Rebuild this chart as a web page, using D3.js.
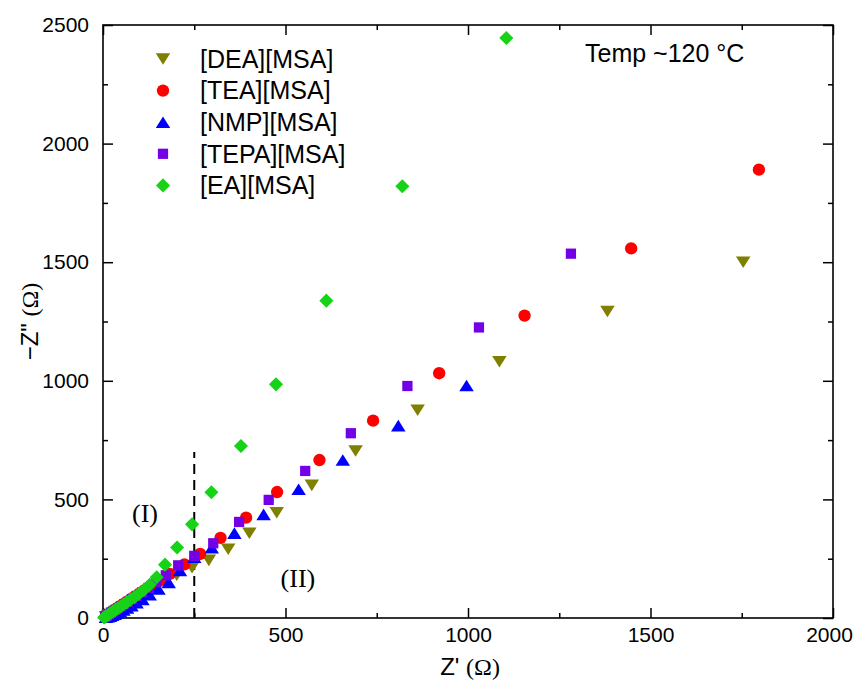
<!DOCTYPE html>
<html>
<head>
<meta charset="utf-8">
<script src="https://cdn.jsdelivr.net/npm/d3@7"></script>
<style>
	html, body { margin: 0; padding: 0; background: #fff; }
	svg { display: block; }
</style>
</head>
<body>
<div id="chart"></div>
<script>
// series names (legend order)
const seriesNames = ['[DEA][MSA]', '[TEA][MSA]', '[NMP][MSA]', '[TEPA][MSA]', '[EA][MSA]'];

// Z' / -Z'' values
const deaX = [1754, 1382, 1086, 862, 692, 572, 476, 401, 343, 290, 244, 202, 172, 148, 127, 109, 94, 81, 69, 59, 50, 42, 34, 27, 20, 14, 8];
const deaY = [1500, 1292, 1080, 876, 704, 559, 444, 357, 290, 243, 212, 180, 152, 130, 110, 93, 79, 67, 57, 48, 40, 33, 27, 21, 15, 10, 5];

const teaX = [1797, 1447, 1155, 921, 740, 593, 477, 392, 322, 266, 223, 183, 155, 132, 113, 97, 83, 71, 60, 50, 42, 34, 27, 20, 14, 8];
const teaY = [1890, 1558, 1275, 1032, 832, 666, 531, 423, 338, 270, 226, 186, 158, 136, 116, 100, 86, 73, 62, 52, 43, 35, 28, 21, 14, 8];

const nmpX = [996, 809, 657, 536, 440, 360, 298, 250, 211, 180, 152, 128, 108, 92, 78, 66, 56, 47, 39, 32, 25, 19, 13, 8];
const nmpY = [980, 811, 666, 543, 437, 358, 296, 256, 200, 150, 122, 98, 78, 64, 52, 42, 34, 27, 21, 16, 12, 8, 5, 3];

const tepaX = [1282, 1030, 834, 679, 554, 454, 373, 302, 250, 206, 172, 146, 125, 107, 92, 79, 68, 58, 49, 41, 34, 28, 22, 16, 11, 6];
const tepaY = [1536, 1225, 978, 779, 620, 498, 405, 315, 262, 222, 180, 150, 127, 108, 93, 80, 68, 58, 49, 41, 34, 27, 21, 15, 10, 5];

const eaX = [1105, 820, 612, 474, 378, 297, 244, 203, 170, 147, 128, 112, 98, 86, 75, 65, 56, 48, 41, 34, 28, 22, 17, 12, 7, 3];
const eaY = [2445, 1820, 1338, 985, 725, 530, 395, 297, 225, 172, 140, 118, 101, 88, 77, 66, 57, 48, 41, 34, 28, 22, 16, 11, 6, 2];

const xTicks = [0, 500, 1000, 1500, 2000];
const xMinor = [250, 750, 1250, 1750];
const yTicks = [0, 500, 1000, 1500, 2000, 2500];
const yMinor = [250, 750, 1250, 1750, 2250];

const width = 855;
const height = 682;
const margin = ({ top: 25, right: 22, bottom: 64, left: 103 });

const colors = ['#7f7f00', '#ff0000', '#0000ff', '#7300e6', '#17d317'];

// custom marker shapes
const triDown = {
	draw(ctx, size) {
		const w = Math.sqrt(size), h = w * 0.8;
		ctx.moveTo(-w / 2, -h / 2); ctx.lineTo(w / 2, -h / 2); ctx.lineTo(0, h / 2); ctx.closePath();
	}
};
const triUp = {
	draw(ctx, size) {
		const w = Math.sqrt(size), h = w * 0.8;
		ctx.moveTo(-w / 2, h / 2); ctx.lineTo(w / 2, h / 2); ctx.lineTo(0, -h / 2); ctx.closePath();
	}
};
const diamond = {
	draw(ctx, size) {
		const r = Math.sqrt(size) / 2;
		ctx.moveTo(0, -r); ctx.lineTo(r, 0); ctx.lineTo(0, r); ctx.lineTo(-r, 0); ctx.closePath();
	}
};
const shapes = [triDown, d3.symbolCircle, triUp, d3.symbolSquare, diamond];
const sizes = [210, 120, 210, 105, 200];

const series = [
	{ xs: deaX, ys: deaY },
	{ xs: teaX, ys: teaY },
	{ xs: nmpX, ys: nmpY },
	{ xs: tepaX, ys: tepaY },
	{ xs: eaX, ys: eaY }
].map((s, i) => ({
	name: seriesNames[i],
	color: colors[i],
	symbol: d3.symbol().type(shapes[i]).size(sizes[i]),
	points: s.xs.map((v, j) => ({ x: v, y: s.ys[j] }))
}));

const x = d3.scaleLinear()
	.domain([0, 2000])
	.range([margin.left, width - margin.right]);

const y = d3.scaleLinear()
	.domain([0, 2500])
	.range([height - margin.bottom, margin.top]);

const svg = d3.select('#chart')
	.append('svg')
	.attr('width', width)
	.attr('height', height)
	.attr('viewBox', [0, 0, width, height]);

const tickFont = '"Liberation Sans", Arial, sans-serif';
const fmt = d3.format('d');

function styleAxis(g) {
	g.select('.domain').remove();
	g.selectAll('.tick line').attr('stroke', '#000').attr('stroke-width', 1.5);
	g.selectAll('.tick text')
		.attr('fill', '#000')
		.style('font-family', tickFont)
		.style('font-size', '21px');
}

// bottom
svg.append('g')
	.attr('transform', `translate(0,${height - margin.bottom})`)
	.call(d3.axisBottom(x).tickValues(xTicks).tickFormat(fmt).tickSizeInner(-10).tickSizeOuter(0).tickPadding(9))
	.call(styleAxis)
	// last label sits at the window edge; nudge it in so it is not clipped
	.call(g => g.selectAll('.tick text').filter(d => d === 2000).attr('dx', -4));
svg.append('g')
	.attr('transform', `translate(0,${height - margin.bottom})`)
	.call(d3.axisBottom(x).tickValues(xMinor).tickSizeInner(-5).tickSizeOuter(0).tickFormat(''))
	.call(styleAxis);
// top
svg.append('g')
	.attr('transform', `translate(0,${margin.top})`)
	.call(d3.axisTop(x).tickValues(xTicks).tickSizeInner(-10).tickSizeOuter(0).tickFormat(''))
	.call(styleAxis);
svg.append('g')
	.attr('transform', `translate(0,${margin.top})`)
	.call(d3.axisTop(x).tickValues(xMinor).tickSizeInner(-5).tickSizeOuter(0).tickFormat(''))
	.call(styleAxis);
// left
svg.append('g')
	.attr('transform', `translate(${margin.left},0)`)
	.call(d3.axisLeft(y).tickValues(yTicks).tickFormat(fmt).tickSizeInner(-10).tickSizeOuter(0).tickPadding(14))
	.call(styleAxis);
svg.append('g')
	.attr('transform', `translate(${margin.left},0)`)
	.call(d3.axisLeft(y).tickValues(yMinor).tickSizeInner(-5).tickSizeOuter(0).tickFormat(''))
	.call(styleAxis);
// right
svg.append('g')
	.attr('transform', `translate(${width - margin.right},0)`)
	.call(d3.axisRight(y).tickValues(yTicks).tickSizeInner(-10).tickSizeOuter(0).tickFormat(''))
	.call(styleAxis);
svg.append('g')
	.attr('transform', `translate(${width - margin.right},0)`)
	.call(d3.axisRight(y).tickValues(yMinor).tickSizeInner(-5).tickSizeOuter(0).tickFormat(''))
	.call(styleAxis);

// frame
svg.append('rect')
	.attr('x', margin.left)
	.attr('y', margin.top)
	.attr('width', width - margin.left - margin.right)
	.attr('height', height - margin.top - margin.bottom)
	.attr('fill', 'none')
	.attr('stroke', '#000')
	.attr('stroke-width', 1.6);

// dashed divider at Z' = 250
svg.append('line')
	.attr('x1', x(250)).attr('x2', x(250))
	.attr('y1', y(0)).attr('y2', y(700))
	.attr('stroke', '#000')
	.attr('stroke-width', 2)
	.attr('stroke-dasharray', '10,6');

// markers
series.forEach(s => {
	svg.append('g')
		.selectAll('path')
		.data(s.points)
		.join('path')
		.attr('transform', d => `translate(${x(d.x)},${y(d.y)})`)
		.attr('d', s.symbol())
		.attr('fill', s.color);
});

// region labels
const serif = '"Liberation Serif", "Times New Roman", serif';
svg.append('text')
	.attr('x', x(115)).attr('y', y(442))
	.attr('text-anchor', 'middle').attr('dy', '0.35em')
	.style('font-family', serif).style('font-size', '26px')
	.text('(I)');
svg.append('text')
	.attr('x', x(534)).attr('y', y(168))
	.attr('text-anchor', 'middle').attr('dy', '0.35em')
	.style('font-family', serif).style('font-size', '26px')
	.text('(II)');

// legend
const legend = svg.append('g');
series.forEach((s, i) => {
	const ly = 59 + i * 31.6;
	legend.append('path')
		.attr('transform', `translate(163,${ly})`)
		.attr('d', s.symbol())
		.attr('fill', s.color);
	legend.append('text')
		.attr('x', 200).attr('y', ly)
		.attr('dy', '0.35em')
		.style('font-family', tickFont).style('font-size', '25px')
		.text(s.name);
});

svg.append('text')
	.attr('x', 585).attr('y', 53)
	.attr('dy', '0.35em')
	.style('font-family', tickFont).style('font-size', '25px')
	.text('Temp ~120 °C');

// axis titles
const xt = svg.append('text')
	.attr('x', (margin.left + width - margin.right) / 2 + 2)
	.attr('y', 675)
	.attr('text-anchor', 'middle')
	.style('font-family', tickFont).style('font-size', '24px');
xt.append('tspan').text("Z' ");
xt.append('tspan').style('font-family', serif).text('(Ω)');

const yt = svg.append('text')
	.attr('transform', `translate(38,${(margin.top + height - margin.bottom) / 2}) rotate(-90)`)
	.attr('text-anchor', 'middle')
	.style('font-family', tickFont).style('font-size', '24px');
yt.append('tspan').text('−Z" ');
yt.append('tspan').style('font-family', serif).text('(Ω)');
</script>
</body>
</html>
